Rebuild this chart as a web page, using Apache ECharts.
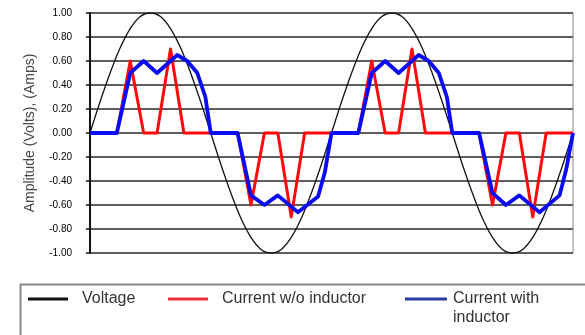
<!DOCTYPE html>
<html>
<head>
<meta charset="utf-8">
<script src="https://cdn.jsdelivr.net/npm/echarts@6/dist/echarts.min.js"></script>
<style>
  html, body { margin: 0; padding: 0; background: #fff; }
  #chart { width: 585px; height: 335px; }
</style>
</head>
<body>
<div id="chart"></div>
<script>
// Phase angle in degrees across two cycles
const voltageAngle = [0,15,30,45,60,75,90,105,120,135,150,165,180,195,210,225,240,255,270,285,300,315,330,345,360,
  375,390,405,420,435,450,465,480,495,510,525,540,555,570,585,600,615,630,645,660,675,690,705,720];
const voltage = [0,0.26,0.5,0.71,0.87,0.97,1,0.97,0.87,0.71,0.5,0.26,0,-0.26,-0.5,-0.71,-0.87,-0.97,-1,-0.97,-0.87,-0.71,-0.5,-0.26,0,
  0.26,0.5,0.71,0.87,0.97,1,0.97,0.87,0.71,0.5,0.26,0,-0.26,-0.5,-0.71,-0.87,-0.97,-1,-0.97,-0.87,-0.71,-0.5,-0.26,0];

const noInductorAngle = [0,20,40,60,80,100,120,140,160,180,200,220,240,260,280,300,320,340,360,
  380,400,420,440,460,480,500,520,540,560,580,600,620,640,660,680,700,720];
const noInductor = [0,0,0,0.6,0,0,0.7,0,0,0,0,0,-0.6,0,0,-0.7,0,0,0,
  0,0,0.6,0,0,0.7,0,0,0,0,0,-0.6,0,0,-0.7,0,0,0];

const withInductorAngle = [0,20,40,60,80,100,130,145,160,172,180,
  200,220,240,260,280,310,340,350,360,
  380,400,420,440,460,490,505,520,532,540,
  560,580,600,620,640,670,700,710,720];
const withInductor = [0,0,0,0.5,0.6,0.5,0.65,0.6,0.5,0.3,0,
  0,0,-0.52,-0.6,-0.52,-0.66,-0.53,-0.33,0,
  0,0,0.5,0.6,0.5,0.65,0.6,0.5,0.3,0,
  0,0,-0.5,-0.6,-0.52,-0.66,-0.52,-0.3,0];

const yTicks = { min: -1, max: 1, step: 0.2 };

const pairs = (xs, ys) => xs.map((x, i) => [x, ys[i]]);

const chart = echarts.init(document.getElementById('chart'), null, { renderer: 'canvas' });

const font = 'Liberation Sans, Arial, sans-serif';
const legendText = { fontFamily: font, fontSize: 16, color: '#333' };

chart.setOption({
  backgroundColor: '#fff',
  animation: false,
  grid: {
    left: 90, right: 12, top: 13, bottom: 82,
    show: true, borderColor: '#888', borderWidth: 1
  },
  xAxis: {
    type: 'value', min: 0, max: 720,
    axisLine: { show: false }, axisTick: { show: false },
    axisLabel: { show: false }, splitLine: { show: false }
  },
  yAxis: {
    type: 'value', min: yTicks.min, max: yTicks.max, interval: yTicks.step,
    name: 'Amplitude (Volts), (Amps)',
    nameLocation: 'middle', nameGap: 53, nameRotate: 90,
    nameTextStyle: { fontFamily: font, fontSize: 14, color: '#444' },
    axisLine: { show: true, lineStyle: { color: '#111', width: 2 } },
    axisTick: { show: true, length: 4, lineStyle: { color: '#111', width: 1.5 } },
    axisLabel: {
      margin: 18, fontFamily: font, fontSize: 10, color: '#000',
      formatter: v => v.toFixed(2)
    },
    splitLine: { show: true, lineStyle: { color: '#5e5e5e', width: 1.8 } }
  },
  legend: [
    { data: [{ name: 'Voltage', itemStyle: { color: '#111' } }],
      left: 28, top: 291, padding: 0, icon: 'rect', itemWidth: 40, itemHeight: 3,
      textStyle: Object.assign({ padding: [0, 0, 0, 9] }, legendText) },
    { data: [{ name: 'Current w/o inductor', itemStyle: { color: '#e8303a' } }],
      left: 168, top: 291, padding: 0, icon: 'rect', itemWidth: 40, itemHeight: 3,
      textStyle: Object.assign({ padding: [0, 0, 0, 9] }, legendText) },
    { data: [{ name: 'Current with inductor', itemStyle: { color: '#2a3ea0' } }],
      left: 405, top: 291, padding: 0, icon: 'rect', itemWidth: 42, itemHeight: 3,
      formatter: () => 'Current with',
      textStyle: Object.assign({ padding: [0, 0, 0, 1] }, legendText) }
  ],
  graphic: [
    { type: 'rect', left: 18, top: 282, shape: { width: 620, height: 120 },
      style: { fill: 'none', stroke: '#888', lineWidth: 2 }, silent: true },
    // second line of the last legend entry
    { type: 'text', left: 453, top: 310, silent: true,
      style: { text: 'inductor', font: '16px ' + font, fill: '#333' } }
  ],
  series: [
    { name: 'Voltage', type: 'line', data: pairs(voltageAngle, voltage), smooth: 0.35,
      showSymbol: false, lineStyle: { color: '#111', width: 1.3 }, itemStyle: { color: '#111' } },
    { name: 'Current w/o inductor', type: 'line', data: pairs(noInductorAngle, noInductor),
      showSymbol: false, lineStyle: { color: '#ff0a0a', width: 3, join: 'round' }, itemStyle: { color: '#ff0a0a' } },
    { name: 'Current with inductor', type: 'line', data: pairs(withInductorAngle, withInductor),
      showSymbol: false, lineStyle: { color: '#0a0af5', width: 3.8, join: 'round' }, itemStyle: { color: '#0a0af5' } }
  ]
});
</script>
</body>
</html>
